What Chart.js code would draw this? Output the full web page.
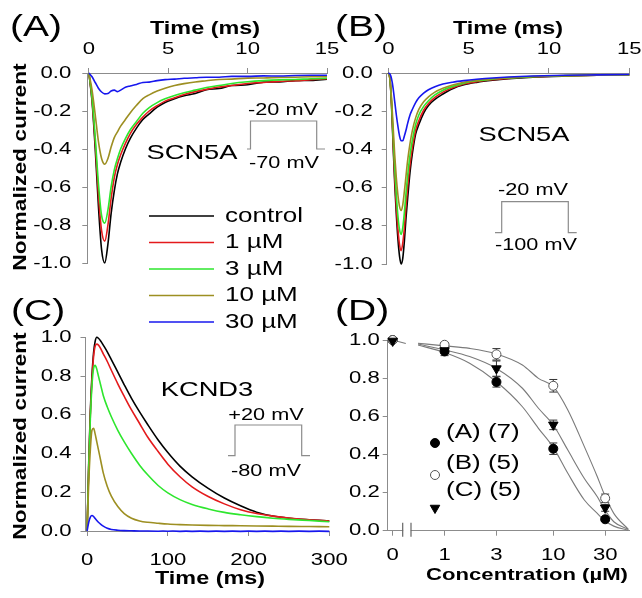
<!DOCTYPE html>
<html>
<head>
<meta charset="utf-8">
<script src="https://cdn.jsdelivr.net/npm/chart.js@4.4.1/dist/chart.umd.min.js"></script>
<style>
    html, body { margin: 0; padding: 0; background: #fff; overflow: hidden; }
    #figure { position: relative; width: 642px; height: 598px; }
    #figure .panel { position: absolute; left: 0; top: 0; width: 642px; height: 598px; }
</style>
</head>
<body>
<div id="figure">
    <div class="panel"><canvas id="panelA"></canvas></div>
    <div class="panel"><canvas id="panelB"></canvas></div>
    <div class="panel"><canvas id="panelC"></canvas></div>
    <div class="panel"><canvas id="panelD"></canvas></div>
</div>
<script>
// Drug concentrations shown in the traces
const seriesLabels = ['control', '1 µM', '3 µM', '10 µM', '30 µM'];
const seriesColors = ['#000000', '#e41a1c', '#2ee62e', '#9d8f22', '#1717ee'];

// (A) SCN5A, step -70 -> -20 mV
const timeA = [0, 0.2, 0.4, 0.6, 0.8, 1.0, 1.2, 1.4, 1.6, 1.8, 2.0, 2.3, 2.6, 3.0, 3.4, 3.8, 4.3, 4.8, 5.4, 6.0, 6.7, 7.4, 8.2, 9.0, 10, 11, 12, 13, 14, 15];
const naControl70 = [0, -0.15, -0.40, -0.70, -0.93, -1.0, -0.90, -0.74, -0.62, -0.53, -0.47, -0.40, -0.345, -0.29, -0.245, -0.215, -0.18, -0.155, -0.135, -0.12, -0.108, -0.088, -0.082, -0.066, -0.062, -0.048, -0.047, -0.04, -0.039, -0.033];
const na1uM70 = [0, -0.14, -0.37, -0.64, -0.83, -0.885, -0.80, -0.66, -0.55, -0.48, -0.43, -0.37, -0.32, -0.27, -0.232, -0.20, -0.172, -0.148, -0.13, -0.113, -0.098, -0.086, -0.074, -0.066, -0.055, -0.05, -0.044, -0.041, -0.035, -0.03];
const na3uM70 = [0, -0.13, -0.34, -0.58, -0.75, -0.79, -0.72, -0.60, -0.51, -0.45, -0.40, -0.345, -0.30, -0.255, -0.212, -0.182, -0.156, -0.136, -0.118, -0.104, -0.09, -0.076, -0.066, -0.055, -0.046, -0.04, -0.036, -0.034, -0.03, -0.028];
const na10uM70 = [0, -0.09, -0.22, -0.36, -0.45, -0.48, -0.45, -0.39, -0.34, -0.31, -0.28, -0.245, -0.21, -0.17, -0.135, -0.115, -0.095, -0.08, -0.066, -0.056, -0.047, -0.041, -0.034, -0.032, -0.027, -0.026, -0.023, -0.022, -0.02, -0.02];
const na30uM70 = [0, -0.02, -0.05, -0.08, -0.10, -0.11, -0.108, -0.095, -0.09, -0.098, -0.09, -0.075, -0.068, -0.06, -0.05, -0.048, -0.04, -0.035, -0.032, -0.028, -0.025, -0.022, -0.022, -0.018, -0.018, -0.015, -0.016, -0.013, -0.012, -0.012];

// (B) SCN5A, step -100 -> -20 mV
const timeB = [0, 0.1, 0.2, 0.3, 0.4, 0.5, 0.6, 0.7, 0.8, 0.9, 1.0, 1.1, 1.2, 1.35, 1.5, 1.7, 1.9, 2.2, 2.5, 2.9, 3.4, 4.0, 4.7, 5.5, 6.5, 7.5, 9, 11, 13, 15];
const naControl100 = [0, -0.03, -0.17, -0.38, -0.58, -0.74, -0.87, -0.96, -1.0, -0.97, -0.88, -0.76, -0.66, -0.52, -0.42, -0.32, -0.27, -0.21, -0.17, -0.138, -0.11, -0.082, -0.062, -0.049, -0.038, -0.03, -0.022, -0.016, -0.012, -0.01];
const na1uM100 = [0, -0.03, -0.16, -0.36, -0.55, -0.70, -0.82, -0.90, -0.93, -0.89, -0.81, -0.70, -0.60, -0.48, -0.39, -0.30, -0.25, -0.195, -0.16, -0.128, -0.10, -0.077, -0.058, -0.045, -0.035, -0.028, -0.02, -0.015, -0.012, -0.01];
const na3uM100 = [0, -0.03, -0.15, -0.33, -0.50, -0.64, -0.75, -0.82, -0.845, -0.81, -0.73, -0.63, -0.54, -0.43, -0.35, -0.27, -0.22, -0.175, -0.145, -0.115, -0.09, -0.07, -0.053, -0.041, -0.032, -0.026, -0.019, -0.014, -0.011, -0.01];
const na10uM100 = [0, -0.03, -0.13, -0.28, -0.43, -0.55, -0.64, -0.70, -0.72, -0.69, -0.62, -0.54, -0.46, -0.37, -0.30, -0.235, -0.19, -0.15, -0.125, -0.10, -0.08, -0.063, -0.048, -0.038, -0.03, -0.024, -0.018, -0.013, -0.011, -0.01];
const na30uM100 = [0, -0.005, -0.03, -0.08, -0.15, -0.22, -0.28, -0.33, -0.355, -0.355, -0.33, -0.30, -0.265, -0.22, -0.19, -0.155, -0.13, -0.105, -0.088, -0.072, -0.058, -0.048, -0.04, -0.033, -0.026, -0.021, -0.016, -0.012, -0.01, -0.008];

// (C) KCND3, step -80 -> +20 mV
const timeC = [0, 2, 4, 6, 8, 10, 12, 14, 17, 20, 25, 30, 38, 46, 55, 65, 75, 88, 100, 115, 130, 150, 170, 190, 210, 230, 250, 275, 300];
const kControl = [0, 0.35, 0.62, 0.80, 0.92, 0.98, 1.0, 0.995, 0.98, 0.96, 0.925, 0.885, 0.82, 0.755, 0.685, 0.615, 0.55, 0.47, 0.405, 0.335, 0.28, 0.22, 0.17, 0.13, 0.097, 0.077, 0.066, 0.058, 0.052];
const k1uM = [0, 0.34, 0.60, 0.78, 0.90, 0.955, 0.965, 0.96, 0.94, 0.915, 0.875, 0.83, 0.76, 0.695, 0.625, 0.555, 0.485, 0.41, 0.345, 0.28, 0.228, 0.178, 0.14, 0.11, 0.09, 0.077, 0.067, 0.058, 0.052];
const k3uM = [0, 0.33, 0.58, 0.75, 0.84, 0.855, 0.835, 0.80, 0.75, 0.70, 0.64, 0.59, 0.52, 0.46, 0.40, 0.34, 0.29, 0.235, 0.197, 0.162, 0.137, 0.114, 0.096, 0.084, 0.074, 0.066, 0.06, 0.054, 0.048];
const k10uM = [0, 0.25, 0.42, 0.52, 0.53, 0.50, 0.46, 0.42, 0.36, 0.30, 0.23, 0.18, 0.126, 0.09, 0.066, 0.052, 0.045, 0.04, 0.036, 0.033, 0.031, 0.029, 0.028, 0.027, 0.026, 0.025, 0.024, 0.023, 0.022];
const k30uM = [0, 0.045, 0.072, 0.08, 0.075, 0.064, 0.054, 0.045, 0.034, 0.025, 0.014, 0.008, 0.004, 0.002, 0.001, 0, 0, -0.001, -0.001, -0.002, -0.002, -0.002, -0.002, -0.002, -0.002, -0.002, -0.002, -0.002, -0.002];

// (D) concentration-response, mean +/- SEM
const concLabels = ['0', '1', '3', '10', '30'];
const concValues = [0, 1, 3, 10, 30];
const zeroAt = 1 / 3; // where "0" sits on the log axis
const relNaA = [1.0, 0.94, 0.78, 0.43, 0.06];
const errNaA = [0, 0.022, 0.027, 0.03, 0.012];
const relNaB = [1.0, 0.975, 0.925, 0.76, 0.17];
const errNaB = [0, 0.01, 0.03, 0.033, 0.022];
const relK = [0.995, 0.945, 0.85, 0.555, 0.12];
const errK = [0, 0.012, 0.04, 0.025, 0.018];
const groupLabels = ['(A) (7)', '(B) (5)', '(C) (5)'];

// fitted curves
const fitConc = [0.57, 1, 1.7, 3, 5.2, 7.3, 10, 13.6, 19.3, 25.4, 29.2, 36, 49];
const fitNaA = [0.974, 0.934, 0.878, 0.781, 0.650, 0.537, 0.437, 0.301, 0.161, 0.091, 0.056, 0.024, 0.003];
const fitNaB = [0.983, 0.969, 0.956, 0.927, 0.869, 0.799, 0.755, 0.633, 0.441, 0.283, 0.196, 0.091, 0.007];
const fitK = [0.979, 0.948, 0.913, 0.851, 0.747, 0.642, 0.554, 0.423, 0.274, 0.178, 0.117, 0.047, 0.007];
const stubConc = [zeroAt, 0.44];
const stubVal = [1.0, 0.982];

// tick values
const ticksTimeNa = [0, 5, 10, 15];
const ticksNa = [0, -0.2, -0.4, -0.6, -0.8, -1.0];
const ticksTimeK = [0, 100, 200, 300];
const ticksK = [0, 0.2, 0.4, 0.6, 0.8, 1.0];

const W = 642;
const H = 598;
const SX = 1.3;
const FONT = '"Liberation Sans", Arial, sans-serif';
const TICK_SIZE = 17;
const axisGray = '#8c8c8c';

const pts = (xs, ys) => xs.map((x, i) => ({ x, y: ys[i] }));

// text is drawn a little wider than the font's natural width
const wideText = (ctx, text, x, y, size, opt = {}) => {
    ctx.save();
    ctx.translate(x, y);
    if (opt.rotate) {
        ctx.rotate(opt.rotate);
    }
    ctx.scale(SX, 1);
    ctx.font = `${opt.bold ? 'bold ' : ''}${size}px ${FONT}`;
    ctx.fillStyle = '#000';
    ctx.textAlign = opt.align || 'center';
    ctx.textBaseline = 'middle';
    ctx.fillText(text, 0, 0);
    ctx.restore();
};

const drawTickLabels = (chart, id, values, labels, gap) => {
    const scale = chart.scales[id];
    const { ctx, chartArea } = chart;
    values.forEach((v, i) => {
        const p = scale.getPixelForValue(v);
        if (scale.isHorizontal()) {
            const y = scale.position === 'top' ? chartArea.top - gap : chartArea.bottom + gap;
            wideText(ctx, labels[i], p, y, TICK_SIZE);
        } else {
            wideText(ctx, labels[i], chartArea.left - gap, p, TICK_SIZE, { align: 'right' });
        }
    });
};

// voltage protocol sketch: [start, rise, fall, end]
const drawStep = (ctx, xs, yLow, yHigh) => {
    ctx.save();
    ctx.strokeStyle = axisGray;
    ctx.lineWidth = 1.2;
    ctx.beginPath();
    ctx.moveTo(xs[0], yLow);
    ctx.lineTo(xs[1], yLow);
    ctx.lineTo(xs[1], yHigh);
    ctx.lineTo(xs[2], yHigh);
    ctx.lineTo(xs[2], yLow);
    ctx.lineTo(xs[3], yLow);
    ctx.stroke();
    ctx.restore();
};

const fmt = (v) => (v === 0 ? '0.0' : v.toFixed(1));

const axis = ({ type = 'linear', position, min, max, tickValues }) => ({
    type,
    position,
    min,
    max,
    grid: { drawOnChartArea: false, drawTicks: true, tickLength: 5, color: axisGray, lineWidth: 1 },
    border: { display: true, color: axisGray, width: 1 },
    ticks: { display: false },
    afterBuildTicks: (scale) => {
        scale.ticks = tickValues.map((value) => ({ value }));
    },
    afterFit: (scale) => {
        if (scale.isHorizontal()) {
            scale.height = 0;
        } else {
            scale.width = 0;
        }
    },
});

const panelOptions = (area, xAxis, yAxis) => ({
    responsive: true,
    maintainAspectRatio: false,
    animation: false,
    events: [],
    devicePixelRatio: 1,
    layout: {
        autoPadding: false,
        padding: { left: area.left, top: area.top, right: W - area.right, bottom: H - area.bottom },
    },
    plugins: { legend: { display: false }, tooltip: { enabled: false } },
    scales: { x: axis(xAxis), y: axis(yAxis) },
});

const traceSets = (times, series) => series.map((vals, i) => ({
    label: seriesLabels[i],
    data: pts(times, vals),
    borderColor: seriesColors[i],
    borderWidth: 1.6,
    pointRadius: 0,
    cubicInterpolationMode: 'monotone',
    clip: false,
    order: series.length - i,
}));

// (A)
new Chart(document.getElementById('panelA'), {
    type: 'line',
    data: { datasets: traceSets(timeA, [naControl70, na1uM70, na3uM70, na10uM70, na30uM70]) },
    options: panelOptions(
        { left: 87.3, right: 327, top: 73, bottom: 263 },
        { position: 'top', min: -0.1, max: 15, tickValues: ticksTimeNa },
        { position: 'left', min: -1, max: 0, tickValues: ticksNa },
    ),
    plugins: [{
        id: 'panelAText',
        afterDraw(chart) {
            const { ctx } = chart;
            drawTickLabels(chart, 'x', ticksTimeNa, ticksTimeNa.map(String), 24);
            drawTickLabels(chart, 'y', ticksNa, ticksNa.map(fmt), 16);
            wideText(ctx, '(A)', 10, 28, 30, { align: 'left' });
            wideText(ctx, 'Time (ms)', 205, 29, 18, { bold: true });
            wideText(ctx, 'Normalized current', 21, 167, 17.5, { bold: true, rotate: -Math.PI / 2 });
            wideText(ctx, 'SCN5A', 192, 153, 21);
            drawStep(ctx, [247, 250.5, 316.7, 325], 149, 121);
            wideText(ctx, '-20 mV', 283, 110, 16.7);
            wideText(ctx, '-70 mV', 284, 163, 16.7);

            // legend for the traces
            const legendY = [216, 242.5, 269, 295.5, 322];
            seriesLabels.forEach((label, i) => {
                ctx.save();
                ctx.strokeStyle = seriesColors[i];
                ctx.lineWidth = 1.6;
                ctx.beginPath();
                ctx.moveTo(149, legendY[i]);
                ctx.lineTo(214, legendY[i]);
                ctx.stroke();
                ctx.restore();
                wideText(ctx, label, 225, legendY[i], 20, { align: 'left' });
            });
        },
    }],
});

// (B)
new Chart(document.getElementById('panelB'), {
    type: 'line',
    data: { datasets: traceSets(timeB, [naControl100, na1uM100, na3uM100, na10uM100, na30uM100]) },
    options: panelOptions(
        { left: 386.7, right: 629.3, top: 73, bottom: 264 },
        { position: 'top', min: -0.1, max: 15, tickValues: ticksTimeNa },
        { position: 'left', min: -1, max: 0, tickValues: ticksNa },
    ),
    plugins: [{
        id: 'panelBText',
        afterDraw(chart) {
            const { ctx } = chart;
            drawTickLabels(chart, 'x', ticksTimeNa, ticksTimeNa.map(String), 24);
            drawTickLabels(chart, 'y', ticksNa, ticksNa.map(fmt), 14);
            wideText(ctx, '(B)', 335, 28, 30, { align: 'left' });
            wideText(ctx, 'Time (ms)', 508, 29, 18, { bold: true });
            wideText(ctx, 'SCN5A', 524, 135, 21);
            drawStep(ctx, [495, 501.7, 568.3, 576.7], 232.7, 201.7);
            wideText(ctx, '-20 mV', 533, 190, 16.7);
            wideText(ctx, '-100 mV', 536, 245, 16.7);
        },
    }],
});

// (C)
new Chart(document.getElementById('panelC'), {
    type: 'line',
    data: { datasets: traceSets(timeC, [kControl, k1uM, k3uM, k10uM, k30uM]) },
    options: panelOptions(
        { left: 85.5, right: 329.3, top: 337.3, bottom: 531 },
        { position: 'bottom', min: -2, max: 300, tickValues: ticksTimeK },
        { position: 'left', min: 0, max: 1, tickValues: ticksK },
    ),
    plugins: [{
        id: 'panelCText',
        afterDraw(chart) {
            const { ctx } = chart;
            drawTickLabels(chart, 'x', ticksTimeK, ticksTimeK.map(String), 29);
            drawTickLabels(chart, 'y', ticksK, ticksK.map(fmt), 14);
            wideText(ctx, '(C)', 11, 312, 30, { align: 'left' });
            wideText(ctx, 'Time (ms)', 210, 579, 18, { bold: true });
            wideText(ctx, 'Normalized current', 21, 436, 17.5, { bold: true, rotate: -Math.PI / 2 });
            wideText(ctx, 'KCND3', 207, 390, 21);
            drawStep(ctx, [228, 235, 301.7, 310], 455.7, 425);
            wideText(ctx, '+20 mV', 266, 415, 16.7);
            wideText(ctx, '-80 mV', 266, 471.7, 16.7);
        },
    }],
});

// (D)
const plotConc = concValues.map((c) => (c === 0 ? zeroAt : c));
const markerStyles = [
    { pointStyle: 'circle', radius: 4.5, rotation: 0, fill: '#000', stroke: '#000' },
    { pointStyle: 'circle', radius: 4.5, rotation: 0, fill: '#fff', stroke: '#555' },
    { pointStyle: 'triangle', radius: 5.5, rotation: 180, fill: '#000', stroke: '#000' },
];
const groups = [[relNaA, errNaA], [relNaB, errNaB], [relK, errK]];
const fitLine = (xs, ys) => ({
    data: pts(xs, ys),
    borderColor: '#7a7a7a',
    borderWidth: 1.1,
    pointRadius: 0,
    cubicInterpolationMode: 'monotone',
    clip: false,
    order: 10,
});

new Chart(document.getElementById('panelD'), {
    type: 'line',
    data: {
        datasets: [
            fitLine(fitConc, fitNaA),
            fitLine(fitConc, fitNaB),
            fitLine(fitConc, fitK),
            fitLine(stubConc, stubVal),
            ...groups.map(([vals], i) => ({
                label: groupLabels[i],
                data: pts(plotConc, vals),
                showLine: false,
                pointStyle: markerStyles[i].pointStyle,
                pointRadius: markerStyles[i].radius,
                pointRotation: markerStyles[i].rotation,
                pointBackgroundColor: markerStyles[i].fill,
                pointBorderColor: markerStyles[i].stroke,
                pointBorderWidth: 1,
                clip: false,
                order: 3 - i,
            })),
        ],
    },
    options: panelOptions(
        { left: 387.7, right: 629.3, top: 340, bottom: 530.7 },
        { type: 'logarithmic', position: 'bottom', min: zeroAt, max: 50, tickValues: plotConc },
        { position: 'left', min: 0, max: 1, tickValues: ticksK },
    ),
    plugins: [{
        id: 'panelDText',
        beforeDatasetsDraw(chart) {
            const { ctx, scales } = chart;
            ctx.save();
            ctx.strokeStyle = '#333';
            ctx.lineWidth = 1;
            groups.forEach(([vals, errs]) => {
                vals.forEach((v, i) => {
                    if (!errs[i]) {
                        return;
                    }
                    const x = scales.x.getPixelForValue(plotConc[i]);
                    const lo = scales.y.getPixelForValue(v - errs[i]);
                    const hi = scales.y.getPixelForValue(v + errs[i]);
                    ctx.beginPath();
                    ctx.moveTo(x, lo);
                    ctx.lineTo(x, hi);
                    ctx.moveTo(x - 4, lo);
                    ctx.lineTo(x + 4, lo);
                    ctx.moveTo(x - 4, hi);
                    ctx.lineTo(x + 4, hi);
                    ctx.stroke();
                });
            });
            ctx.restore();
        },
        afterDraw(chart) {
            const { ctx, chartArea } = chart;
            drawTickLabels(chart, 'x', plotConc, concLabels, 25);
            drawTickLabels(chart, 'y', ticksK, ticksK.map(fmt), 8);
            wideText(ctx, '(D)', 335, 312, 30, { align: 'left' });
            wideText(ctx, 'Concentration (µM)', 527, 575, 17, { bold: true });

            // axis break
            const b = chartArea.bottom;
            ctx.save();
            ctx.fillStyle = '#fff';
            ctx.fillRect(chartArea.left + 15.5, b - 2, 7.5, 4);
            ctx.strokeStyle = '#666';
            ctx.lineWidth = 1.2;
            ctx.beginPath();
            ctx.moveTo(chartArea.left + 15, b - 8);
            ctx.lineTo(chartArea.left + 15, b + 6);
            ctx.moveTo(chartArea.left + 23.3, b - 8);
            ctx.lineTo(chartArea.left + 23.3, b + 6);
            ctx.stroke();
            ctx.restore();

            // legend for the three groups
            const markY = [443, 475, 508];
            const textY = [432, 463, 490];
            markerStyles.forEach((m, i) => {
                ctx.save();
                ctx.fillStyle = m.fill;
                ctx.strokeStyle = m.stroke;
                ctx.lineWidth = 1;
                Chart.helpers.drawPoint(ctx, { pointStyle: m.pointStyle, radius: m.radius, rotation: m.rotation, borderWidth: 1 }, 435, markY[i]);
                ctx.restore();
                wideText(ctx, groupLabels[i], 446, textY[i], 20, { align: 'left' });
            });
        },
    }],
});
</script>
</body>
</html>
